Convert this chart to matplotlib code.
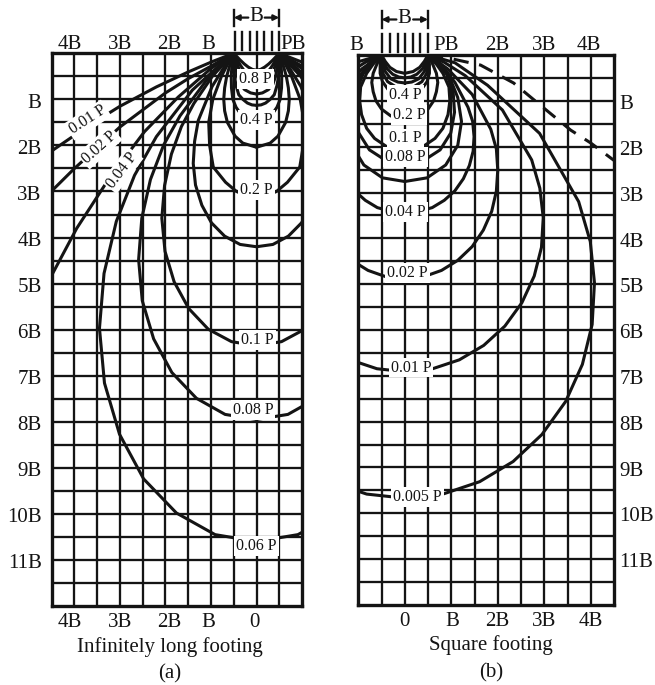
import numpy as np
import matplotlib
matplotlib.use("Agg")
import matplotlib.pyplot as plt

plt.rcParams['font.family'] = ['Liberation Serif', 'DejaVu Serif']

# ---------------------------------------------------------------------------
# Isobars of vertical stress (fraction of P), one half of each bulb given as
# (horizontal offset from footing centre, depth), both in units of B.
# The other half is the mirror image about the centre line.
# ---------------------------------------------------------------------------

# (a) infinitely long (strip) footing
STRIP_090_X = [0.5, 0.43, 0.36, 0.27, 0.18, 0.09, 0.0]
STRIP_090_Z = [0.0, 0.073, 0.145, 0.23, 0.30, 0.35, 0.368]
STRIP_080_X = [0.5, 0.426, 0.353, 0.27, 0.18, 0.09, 0.0]
STRIP_080_Z = [0.0, 0.131, 0.261, 0.38, 0.46, 0.51, 0.529]
STRIP_070_X = [0.5, 0.436, 0.372, 0.29, 0.19, 0.10, 0.0]
STRIP_070_Z = [0.0, 0.19, 0.379, 0.52, 0.62, 0.675, 0.693]
STRIP_060_X = [0.5, 0.461, 0.422, 0.36, 0.26, 0.13, 0.0]
STRIP_060_Z = [0.0, 0.247, 0.494, 0.67, 0.79, 0.86, 0.885]
STRIP_050_X = [0.5, 0.5, 0.483, 0.45, 0.39, 0.30, 0.20, 0.10, 0.0]
STRIP_050_Z = [0.0, 0.25, 0.5, 0.7, 0.9, 1.0, 1.08, 1.12, 1.13]
STRIP_040_X = [0.5, 0.539, 0.555, 0.55, 0.52, 0.45, 0.36, 0.20, 0.0]
STRIP_040_Z = [0.0, 0.247, 0.5, 0.75, 1.0, 1.17, 1.30, 1.43, 1.48]
STRIP_030_X = [0.5, 0.58, 0.655, 0.70, 0.72, 0.70, 0.64, 0.47, 0.30, 0.0]
STRIP_030_Z = [0.0, 0.237, 0.5, 0.75, 1.0, 1.25, 1.5, 1.8, 1.95, 2.04]
STRIP_020_X = [0.5, 0.647, 0.77, 0.96, 1.05, 1.03, 0.95, 0.68, 0.44, 0.20, 0.0]
STRIP_020_Z = [0.0, 0.261, 0.5, 1.0, 1.5, 2.0, 2.47, 2.8, 3.0, 3.1, 3.13]
STRIP_015_X = [0.5, 0.676, 0.975, 1.28, 1.36, 1.39, 1.34, 1.20, 0.99, 0.70, 0.36, 0.0]
STRIP_015_Z = [0.0, 0.243, 0.72, 1.46, 1.91, 2.39, 2.86, 3.30, 3.68, 3.97, 4.15, 4.20]
STRIP_010_X = [0.5, 0.706, 0.97, 1.375, 1.65, 1.87, 2.02, 2.08, 2.01, 1.81, 1.49,
               1.06, 0.55, 0.0]
STRIP_010_Z = [0.0, 0.218, 0.5, 1.087, 1.59, 2.19, 2.87, 3.58, 4.30, 4.96, 5.54,
               5.99, 6.26, 6.35]
STRIP_008_X = [0.5, 0.719, 1.11, 1.68, 2.04, 2.33, 2.52, 2.59, 2.51, 2.26, 1.86,
               1.32, 0.69, 0.0]
STRIP_008_Z = [0.0, 0.205, 0.6, 1.358, 1.99, 2.74, 3.58, 4.48, 5.37, 6.20, 6.93,
               7.49, 7.84, 7.95]
STRIP_006_X = [0.5, 0.734, 1.41, 2.20, 2.68, 3.08, 3.35, 3.45, 3.34, 3.01, 2.48,
               1.76, 0.91, 0.0]
STRIP_006_Z = [0.0, 0.188, 0.8, 1.81, 2.65, 3.65, 4.78, 5.97, 7.16, 8.27, 9.24,
               9.98, 10.45, 10.60]
STRIP_004_X = [0.5, 1.0, 1.72, 2.46, 3.24, 3.95, 4.5, 4.8]
STRIP_004_Z = [0.0, 0.33, 0.95, 1.70, 2.72, 3.80, 4.82, 5.40]
STRIP_002_X = [0.5, 1.0, 1.5, 2.0, 3.0, 4.0, 4.5, 5.0]
STRIP_002_Z = [0.0, 0.28, 0.55, 0.86, 1.60, 2.50, 2.99, 3.53]
STRIP_001_X = [0.5, 0.97, 1.5, 2.2, 3.0, 3.7, 4.5, 5.0]
STRIP_001_Z = [0.0, 0.18, 0.405, 0.73, 1.15, 1.58, 2.12, 2.48]

# (b) square footing, section through the centre
SQ_080_X = [0.5, 0.42, 0.32, 0.18, 0.0]
SQ_080_Z = [0.0, 0.14, 0.27, 0.36, 0.40]
SQ_070_X = [0.5, 0.45, 0.38, 0.26, 0.13, 0.0]
SQ_070_Z = [0.0, 0.16, 0.30, 0.42, 0.48, 0.50]
SQ_060_X = [0.5, 0.47, 0.42, 0.30, 0.15, 0.0]
SQ_060_Z = [0.0, 0.18, 0.36, 0.52, 0.59, 0.61]
SQ_050_X = [0.5, 0.5, 0.47, 0.37, 0.20, 0.0]
SQ_050_Z = [0.0, 0.2, 0.4, 0.58, 0.69, 0.73]
SQ_040_X = [0.5, 0.53, 0.53, 0.48, 0.36, 0.18, 0.0]
SQ_040_Z = [0.0, 0.2, 0.4, 0.58, 0.75, 0.84, 0.87]
SQ_020_X = [0.5, 0.60, 0.68, 0.71, 0.68, 0.62, 0.50, 0.30, 0.0]
SQ_020_Z = [0.0, 0.2, 0.4, 0.6, 0.8, 1.0, 1.18, 1.33, 1.40]
SQ_010_X = [0.5, 0.68, 0.82, 0.95, 0.97, 0.93, 0.82, 0.65, 0.36, 0.0]
SQ_010_Z = [0.0, 0.2, 0.4, 0.7, 1.0, 1.3, 1.6, 1.82, 2.02, 2.09]
SQ_008_X = [0.5, 0.72, 0.90, 1.04, 1.07, 0.99, 0.76, 0.41, 0.0]
SQ_008_Z = [0.0, 0.2, 0.42, 0.8, 1.25, 1.7, 2.07, 2.30, 2.355]
SQ_006_X = [0.5, 0.74, 0.95, 1.14, 1.22, 1.14, 0.88, 0.48, 0.0]
SQ_006_Z = [0.0, 0.2, 0.45, 0.93, 1.45, 1.97, 2.40, 2.68, 2.76]
SQ_004_X = [0.5, 0.78, 1.08, 1.36, 1.46, 1.49, 1.47, 1.39, 1.26, 1.08, 0.85, 0.59,
            0.30, 0.0]
SQ_004_Z = [0.0, 0.2, 0.6, 1.14, 1.45, 1.78, 2.10, 2.41, 2.70, 2.96, 3.17, 3.33,
            3.41, 3.43]
SQ_002_X = [0.5, 0.92, 1.45, 1.85, 1.97, 2.0, 1.97, 1.87, 1.69, 1.45, 1.14, 0.79,
            0.40, 0.0]
SQ_002_Z = [0.0, 0.30, 0.86, 1.62, 2.05, 2.51, 2.97, 3.41, 3.82, 4.18, 4.48, 4.70,
            4.84, 4.886]
SQ_001_X = [0.5, 0.85, 1.3, 2.1, 2.73, 2.905, 2.978, 2.94, 2.784, 2.52, 2.153,
            1.698, 1.173, 0.599, 0.0]
SQ_001_Z = [0.0, 0.16, 0.45, 1.2, 2.29, 2.905, 3.549, 4.197, 4.823, 5.403, 5.915,
            6.336, 6.651, 6.845, 6.91]
SQ_0005_X = [0.5, 1.08, 1.78, 2.9, 3.74, 3.99, 4.08, 4.03, 3.82, 3.46, 2.95, 2.33,
             1.61, 0.82, 0.0]
SQ_0005_Z = [0.0, 0.17, 0.66, 1.71, 3.2, 4.07, 4.97, 5.88, 6.75, 7.56, 8.28, 8.87,
             9.31, 9.58, 9.67]
# outermost (dashed) isobar, drawn on the outer side only
SQ_DASH_X = [0.5, 1.0, 1.63, 2.34, 2.97, 3.57, 4.0, 4.5]
SQ_DASH_Z = [0.0, 0.08, 0.22, 0.61, 1.14, 1.64, 1.92, 2.30]

# isobar labels: text, x, depth, rotation
STRIP_LABELS = ["0.8 P", "0.4 P", "0.2 P", "0.1 P", "0.08 P", "0.06 P",
                "0.01 P", "0.02 P", "0.04 P"]
STRIP_LABEL_X = [-0.02, 0.0, 0.0, 0.02, -0.08, 0.0, -3.71, -3.45, -2.95]
STRIP_LABEL_Z = [0.56, 1.45, 2.97, 6.23, 7.75, 10.69, 1.45, 2.04, 2.54]
STRIP_LABEL_ROT = [0, 0, 0, 0, 0, 0, 33, 42, 53]

SQ_LABELS = ["0.4 P", "0.2 P", "0.1 P", "0.08 P", "0.04 P", "0.02 P", "0.01 P",
             "0.005 P"]
SQ_LABEL_X = [0.02, 0.09, 0.02, 0.02, 0.02, 0.06, 0.13, 0.27]
SQ_LABEL_Z = [0.87, 1.31, 1.82, 2.22, 3.42, 4.75, 6.82, 9.64]

# axis annotations
DEPTH_TICKS = [1, 2, 3, 4, 5, 6, 7, 8, 9, 10, 11]
DEPTH_LABELS = ["B", "2B", "3B", "4B", "5B", "6B", "7B", "8B", "9B", "10B", "11B"]
A_TOP_POS = [-4.1, -3.0, -1.92, -1.05, 0.8]
A_TOP_LABELS = ["4B", "3B", "2B", "B", "PB"]
A_BOTTOM_POS = [-4.1, -3.0, -1.92, -1.05, -0.04]
A_BOTTOM_LABELS = ["4B", "3B", "2B", "B", "0"]
B_TOP_POS = [-1.05, 0.88, 1.99, 3.0, 3.95]
B_TOP_LABELS = ["B", "PB", "2B", "3B", "4B"]
B_BOTTOM_POS = [0.0, 1.03, 1.99, 3.0, 4.0]
B_BOTTOM_LABELS = ["0", "B", "2B", "3B", "4B"]

INK = "#141414"
LABEL_FS = 15
ISO_FS = 11.5

fig = plt.figure(figsize=(6.55, 6.85), dpi=100)
fig.patch.set_facecolor("white")
ax_a = fig.add_axes([0.0789, 0.1153, 0.3822, 0.8069])
ax_b = fig.add_axes([0.5470, 0.1168, 0.3904, 0.8029])


def base_panel(ax, x0, x1):
    ax.set_xlim(x0, x1)
    ax.set_ylim(12, 0)
    ax.set_xticks([])
    ax.set_yticks([])
    for sp in ax.spines.values():
        sp.set_linewidth(2.4)
        sp.set_color(INK)
    for gx in np.arange(x0 + 0.5, x1 - 0.01, 0.5):
        ax.axvline(gx, color=INK, lw=1.65, zorder=1)
    for gz in np.arange(0.5, 11.99, 0.5):
        ax.axhline(gz, color=INK, lw=1.65, zorder=1)


def bulb(ax, xs, zs, both=True, **kw):
    style = dict(color=INK, lw=2.2, zorder=3, solid_capstyle="round",
                 solid_joinstyle="round")
    style.update(kw)
    ax.plot(xs, zs, **style)
    if both:
        ax.plot([-v for v in xs], zs, **style)


def footing(ax):
    # uniformly distributed load acting on a footing of width B
    for x in np.linspace(-0.48, 0.5, 7):
        ax.plot([x, x], [-0.07, -0.46], color=INK, lw=1.7, clip_on=False,
                zorder=4)
    for x in (-0.5, 0.5):
        ax.plot([x, x], [-0.95, -0.6], color=INK, lw=1.7, clip_on=False)
    for a, b in ((-0.18, -0.5), (0.18, 0.5)):
        ax.annotate("", xy=(b, -0.775), xytext=(a, -0.775),
                    arrowprops=dict(arrowstyle="-|>", color=INK, lw=1.6,
                                    mutation_scale=8, shrinkA=0, shrinkB=0),
                    annotation_clip=False)
    ax.text(0, -0.79, "B", ha="center", va="center", fontsize=LABEL_FS,
            color=INK, clip_on=False)


def iso_label(ax, text, x, z, rot=0):
    ax.text(x, z, text, ha="center", va="center", fontsize=ISO_FS, color=INK,
            rotation=rot, rotation_mode="anchor", zorder=6,
            bbox=dict(boxstyle="square,pad=0.12", fc="white", ec="none"))


# ---------------- (a) infinitely long footing ----------------
base_panel(ax_a, -4.5, 1.0)
strip_curves = [
    (STRIP_090_X, STRIP_090_Z), (STRIP_080_X, STRIP_080_Z),
    (STRIP_070_X, STRIP_070_Z), (STRIP_060_X, STRIP_060_Z),
    (STRIP_050_X, STRIP_050_Z), (STRIP_040_X, STRIP_040_Z),
    (STRIP_030_X, STRIP_030_Z), (STRIP_020_X, STRIP_020_Z),
    (STRIP_015_X, STRIP_015_Z), (STRIP_010_X, STRIP_010_Z),
    (STRIP_008_X, STRIP_008_Z), (STRIP_006_X, STRIP_006_Z),
    (STRIP_004_X, STRIP_004_Z), (STRIP_002_X, STRIP_002_Z),
    (STRIP_001_X, STRIP_001_Z),
]
for xs, zs in strip_curves:
    bulb(ax_a, xs, zs)
for t, x, z, r in zip(STRIP_LABELS, STRIP_LABEL_X, STRIP_LABEL_Z, STRIP_LABEL_ROT):
    iso_label(ax_a, t, x, z, r)
footing(ax_a)

for z, t in zip(DEPTH_TICKS, DEPTH_LABELS):
    ax_a.text(-4.72, z + 0.08, t, ha="right", va="center", fontsize=LABEL_FS,
              color=INK, clip_on=False)
for x, t in zip(A_TOP_POS, A_TOP_LABELS):
    ax_a.text(x, -0.2, t, ha="center", va="center", fontsize=LABEL_FS,
              color=INK, clip_on=False)
for x, t in zip(A_BOTTOM_POS, A_BOTTOM_LABELS):
    ax_a.text(x, 12.36, t, ha="center", va="center", fontsize=LABEL_FS,
              color=INK, clip_on=False)
ax_a.text(-1.91, 12.88, "Infinitely long footing", ha="center", va="center",
          fontsize=LABEL_FS, color=INK, clip_on=False)
ax_a.text(-1.91, 13.47, "(a)", ha="center", va="center", fontsize=LABEL_FS,
          color=INK, clip_on=False)

# ---------------- (b) square footing ----------------
base_panel(ax_b, -1.0, 4.5)
square_curves = [
    (SQ_080_X, SQ_080_Z), (SQ_070_X, SQ_070_Z), (SQ_060_X, SQ_060_Z),
    (SQ_050_X, SQ_050_Z), (SQ_040_X, SQ_040_Z), (SQ_020_X, SQ_020_Z),
    (SQ_010_X, SQ_010_Z), (SQ_008_X, SQ_008_Z), (SQ_006_X, SQ_006_Z),
    (SQ_004_X, SQ_004_Z), (SQ_002_X, SQ_002_Z), (SQ_001_X, SQ_001_Z),
    (SQ_0005_X, SQ_0005_Z),
]
for xs, zs in square_curves:
    bulb(ax_b, xs, zs)
bulb(ax_b, SQ_DASH_X, SQ_DASH_Z, both=False, ls=(0, (5, 3.5)),
     dash_capstyle="butt")
for t, x, z in zip(SQ_LABELS, SQ_LABEL_X, SQ_LABEL_Z):
    iso_label(ax_b, t, x, z)
footing(ax_b)

for z, t in zip(DEPTH_TICKS, DEPTH_LABELS):
    ax_b.text(4.62, z + 0.08, t, ha="left", va="center", fontsize=LABEL_FS,
              color=INK, clip_on=False)
for x, t in zip(B_TOP_POS, B_TOP_LABELS):
    ax_b.text(x, -0.2, t, ha="center", va="center", fontsize=LABEL_FS,
              color=INK, clip_on=False)
for x, t in zip(B_BOTTOM_POS, B_BOTTOM_LABELS):
    ax_b.text(x, 12.36, t, ha="center", va="center", fontsize=LABEL_FS,
              color=INK, clip_on=False)
ax_b.text(1.85, 12.88, "Square footing", ha="center", va="center",
          fontsize=LABEL_FS, color=INK, clip_on=False)
ax_b.text(1.85, 13.47, "(b)", ha="center", va="center", fontsize=LABEL_FS,
          color=INK, clip_on=False)

fig.savefig("out.png", dpi=100, facecolor="white")
